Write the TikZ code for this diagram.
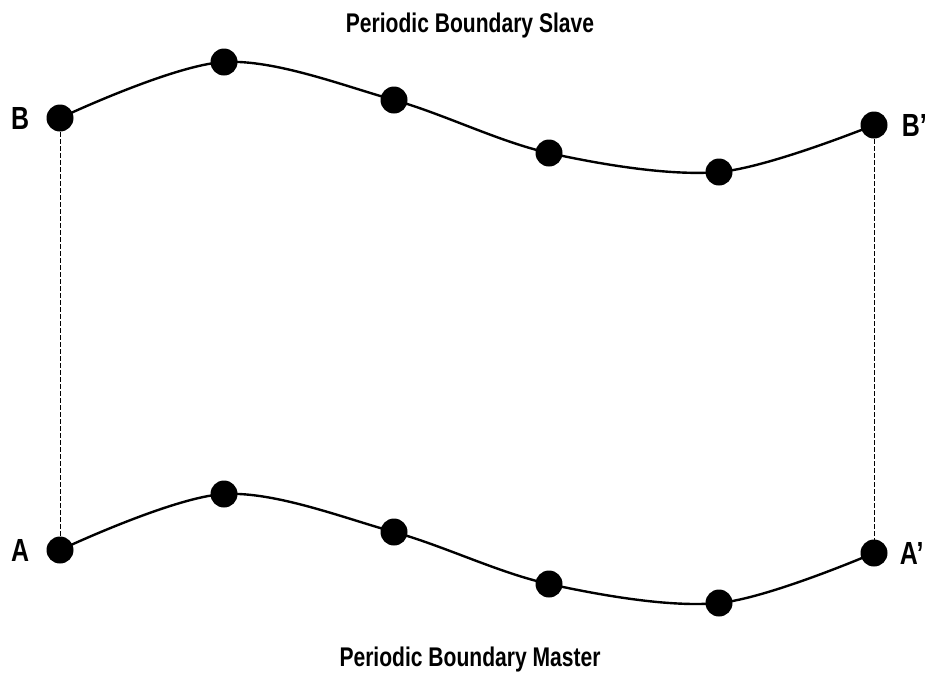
\documentclass[tikz,border=0pt]{standalone}
\usepackage{fontspec}
\setmainfont{Liberation Sans}[FakeStretch=0.78]
\usetikzlibrary{positioning}
\tikzset{
  dot/.style={circle,fill=black,inner sep=0pt,minimum size=27pt},
  curve/.style={line width=2.4pt,smooth,tension=0.55},
  link/.style={line width=0.9pt,dash pattern=on 5pt off 2pt},
  ptlbl/.style={font=\fontsize{32}{32}\selectfont\bfseries,inner sep=0pt},
  title/.style={font=\fontsize{27}{27}\selectfont\bfseries,inner sep=0pt},
}
\begin{document}
\begin{tikzpicture}[x=1pt,y=-1pt]
\useasboundingbox (0,0) rectangle (934,683);

% slave side (top)
\coordinate (b)  at (60,118);
\coordinate (s1) at (224,62);
\coordinate (s2) at (394,100);
\coordinate (s3) at (549,153);
\coordinate (s4) at (719,172);
\coordinate (bp) at (874,125);

% master side (bottom)
\coordinate (a)  at (60,550);
\coordinate (m1) at (224,494);
\coordinate (m2) at (394,532);
\coordinate (m3) at (549,584);
\coordinate (m4) at (719,603);
\coordinate (ap) at (874,553);

\draw[link] (b) -- (a);
\draw[link] (bp) -- (ap);

\draw[curve] plot coordinates {(b) (s1) (s2) (s3) (s4) (bp)};
\draw[curve] plot coordinates {(a) (m1) (m2) (m3) (m4) (ap)};

\foreach \p in {b,s1,s2,s3,s4,bp,a,m1,m2,m3,m4,ap}
  \node[dot] (d\p) at (\p) {};

\node[ptlbl,left=17pt of db]  (lb)  {B};
\node[ptlbl,right=14pt of dbp] (lbp) {B’};
\node[ptlbl,left=17pt of da]  (la)  {A};
\node[ptlbl,right=12pt of dap] (lap) {A’};

\node[title] (slave)  at (470,26)  {Periodic Boundary Slave};
\node[title] (master) at (470,660) {Periodic Boundary Master};

\end{tikzpicture}
\end{document}
